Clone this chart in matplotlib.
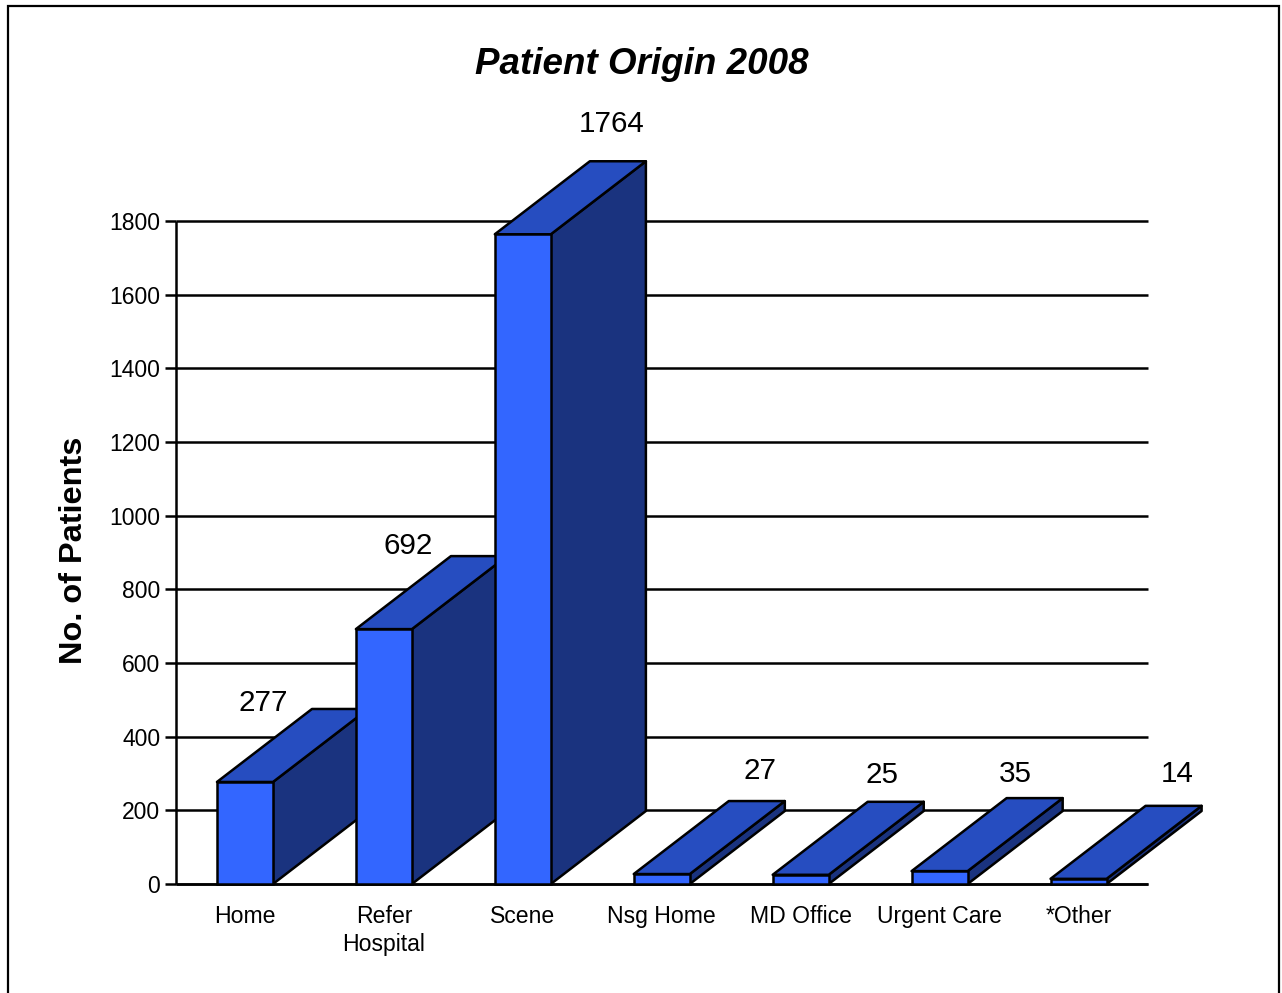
import matplotlib.pyplot as plt
from matplotlib.patches import Polygon, Rectangle

plt.rcParams['font.family'] = ['Liberation Sans', 'DejaVu Sans']

categories = ['Home', 'Refer\nHospital', 'Scene', 'Nsg Home', 'MD Office', 'Urgent Care', '*Other']
patients = [277, 692, 1764, 27, 25, 35, 14]
yticks = [0, 200, 400, 600, 800, 1000, 1200, 1400, 1600, 1800]

# label offsets from the top of the front face, in pixels
label_dx = [18, 24, 89, 98, 81, 76, 99]
label_dy = [79, 83, 110, 103, 100, 97, 105]

front_col = '#3366ff'
top_col = '#264dc0'
side_col = '#1a337f'
line_w = 1.8
W, H = 1282, 993

fig = plt.figure(figsize=(W/100, H/100), dpi=100)
ax = fig.add_axes([175.5/W, (H-884)/H, 972.5/W, 663/H])
ax.set_xlim(0, 7)
ax.set_ylim(0, 1800)

# frame round the whole slide, runs off the bottom of the picture
fig.add_artist(Rectangle((7.5/W, -0.02), (1278.5-7.5)/W, 1.02-6/H, transform=fig.transFigure,
                         fill=False, ec='black', lw=1.6))

ax.set_yticks(yticks)
ax.set_xticks([i+0.5 for i in range(len(categories))])
ax.set_xticklabels(categories, fontsize=16.6, linespacing=1.3)
ax.tick_params(axis='x', length=0, pad=15)
ax.tick_params(axis='y', length=8, width=line_w, labelsize=16.5, pad=3)
ax.grid(axis='y', color='black', lw=line_w, zorder=1, clip_on=False, solid_capstyle='butt')
ax.set_axisbelow(True)
for s in ['top', 'right']:
    ax.spines[s].set_visible(False)
for s in ['left', 'bottom']:
    ax.spines[s].set_linewidth(line_w)
    ax.spines[s].set_capstyle('butt')

bw = 56/(972/7)
depth_x = 95/(972/7)
depth_y = 73/663*1800
for i, v in enumerate(patients):
    x0 = i + 0.5 - bw/2
    x1 = i + 0.5 + bw/2
    z = 3 + i
    ax.add_patch(Polygon([(x1, 0), (x1+depth_x, depth_y), (x1+depth_x, v+depth_y), (x1, v)],
                         fc=side_col, ec='black', lw=line_w, zorder=z, clip_on=False, joinstyle='round'))
    ax.add_patch(Polygon([(x0, v), (x0+depth_x, v+depth_y), (x1+depth_x, v+depth_y), (x1, v)],
                         fc=top_col, ec='black', lw=line_w, zorder=z, clip_on=False, joinstyle='round'))
    ax.add_patch(Rectangle((x0, 0), bw, v, fc=front_col, ec='black', lw=line_w, zorder=z, clip_on=False))
    ax.annotate(str(v), (i+0.5, v), xytext=(label_dx[i], label_dy[i]), textcoords='offset pixels',
                ha='center', va='center', fontsize=21.3, zorder=20, annotation_clip=False)

fig.text(642/W, 1-65/H, 'Patient Origin 2008', ha='center', va='center',
         fontsize=26.5, fontweight='bold', fontstyle='italic')
fig.text(74/W, 1-550/H, 'No. of Patients', rotation=90, ha='center', va='center',
         fontsize=23.4, fontweight='bold')

fig.savefig('out.png', dpi=100)
